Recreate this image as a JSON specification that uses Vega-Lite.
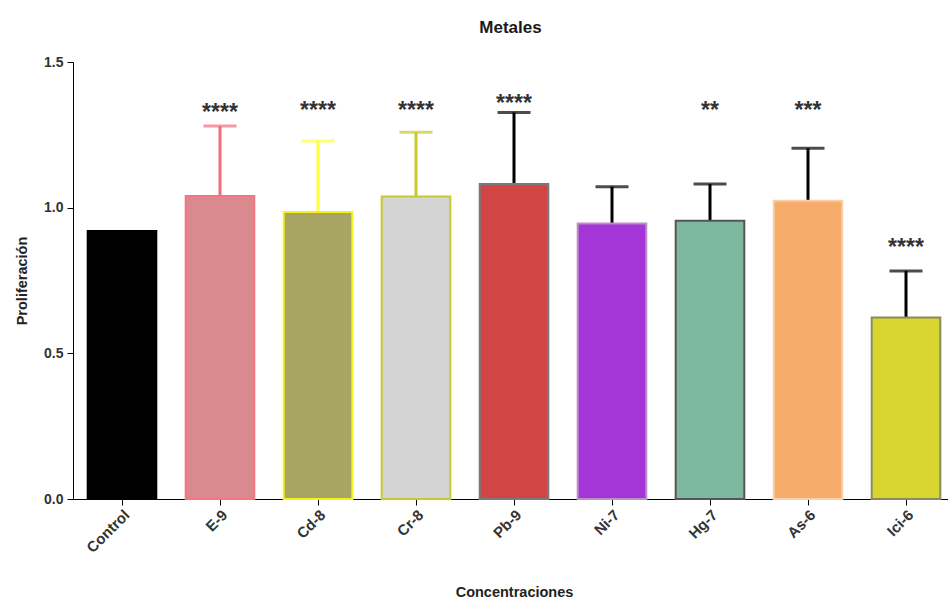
{
  "$schema": "https://vega.github.io/schema/vega-lite/v6.json",
  "autosize": "none",
  "width": 875,
  "height": 437,
  "padding": {"left": 73, "top": 62, "right": 0, "bottom": 103},
  "background": "white",
  "title": {"text": "Metales", "font": "Liberation Sans", "fontSize": 17, "fontWeight": "bold", "color": "#1a1a1a", "offset": 18, "anchor": "middle"},
  "config": {
    "view": {"stroke": null},
    "axis": {"labelFont": "Liberation Sans", "labelFontWeight": "bold", "labelFontSize": 15, "labelColor": "#333", "titleFont": "Liberation Sans", "titleFontWeight": "bold", "titleFontSize": 14.5, "titleColor": "#222", "domainColor": "#000", "tickColor": "#000", "grid": false}
  },
  "data": {"values": [
    {"grupo": "Control", "media": 0.92, "superior": null, "sig": "", "sig_at": null},
    {"grupo": "E-9", "media": 1.04, "superior": 1.28, "sig": "****", "sig_at": 1.346},
    {"grupo": "Cd-8", "media": 0.985, "superior": 1.229, "sig": "****", "sig_at": 1.353},
    {"grupo": "Cr-8", "media": 1.038, "superior": 1.259, "sig": "****", "sig_at": 1.353},
    {"grupo": "Pb-9", "media": 1.081, "superior": 1.327, "sig": "****", "sig_at": 1.377},
    {"grupo": "Ni-7", "media": 0.946, "superior": 1.072, "sig": "", "sig_at": null},
    {"grupo": "Hg-7", "media": 0.955, "superior": 1.081, "sig": "**", "sig_at": 1.353},
    {"grupo": "As-6", "media": 1.024, "superior": 1.204, "sig": "***", "sig_at": 1.353},
    {"grupo": "Ici-6", "media": 0.623, "superior": 0.783, "sig": "****", "sig_at": 0.882}
  ]},
  "encoding": {
    "x": {"field": "grupo", "type": "nominal", "sort": null,
      "scale": {"range": [0, 882], "paddingInner": 0.3, "paddingOuter": 0.15},
      "axis": {"title": "Concentraciones", "labelAngle": -45, "labelAlign": "right", "labelBaseline": "top", "labelFontSize": 15, "tickSize": 6, "labelPadding": 2, "titlePadding": 30}}
  },
  "layer": [
    {
      "mark": {"type": "rule", "strokeWidth": 3},
      "encoding": {
        "y": {"field": "media", "type": "quantitative"},
        "y2": {"field": "superior"},
        "color": {"field": "grupo", "type": "nominal", "legend": null,
          "scale": {"domain": ["Control","E-9","Cd-8","Cr-8","Pb-9","Ni-7","Hg-7","As-6","Ici-6"],
                    "range": ["#000000","#f46c7c","#ffff3a","#c9c828","#000000","#000000","#000000","#000000","#000000"]}}
      }
    },
    {
      "mark": {"type": "tick", "thickness": 3, "size": 33},
      "encoding": {
        "y": {"field": "superior", "type": "quantitative"},
        "color": {"field": "grupo", "type": "nominal", "legend": null}
      }
    },
    {
      "mark": {"type": "bar", "strokeWidth": 2},
      "encoding": {
        "y": {"field": "media", "type": "quantitative",
          "scale": {"domain": [0, 1.5], "nice": false},
          "axis": {"title": "Proliferación", "values": [0, 0.5, 1, 1.5], "format": ".1f", "labelFontSize": 14, "labelPadding": 4, "tickSize": 6, "titlePadding": 14}},
        "fill": {"field": "grupo", "type": "nominal", "legend": null,
          "scale": {"domain": ["Control","E-9","Cd-8","Cr-8","Pb-9","Ni-7","Hg-7","As-6","Ici-6"],
                    "range": ["#000000","#d98a8e","#a8a462","#d4d4d4","#d14545","#a535d6","#7fb8a0","#f6ad6c","#d8d530"]}},
        "stroke": {"field": "grupo", "type": "nominal", "legend": null,
          "scale": {"domain": ["Control","E-9","Cd-8","Cr-8","Pb-9","Ni-7","Hg-7","As-6","Ici-6"],
                    "range": ["#000000","#f47480","#f4f41c","#c8c830","#7a7a7a","#b890c8","#555555","#f8cfa8","#8a8a60"]}}
      }
    },
    {
      "mark": {"type": "text", "font": "Liberation Sans", "fontSize": 23, "fontWeight": "bold", "color": "#333", "baseline": "middle", "dy": 6},
      "encoding": {
        "y": {"field": "sig_at", "type": "quantitative"},
        "text": {"field": "sig"}
      }
    }
  ]
}
